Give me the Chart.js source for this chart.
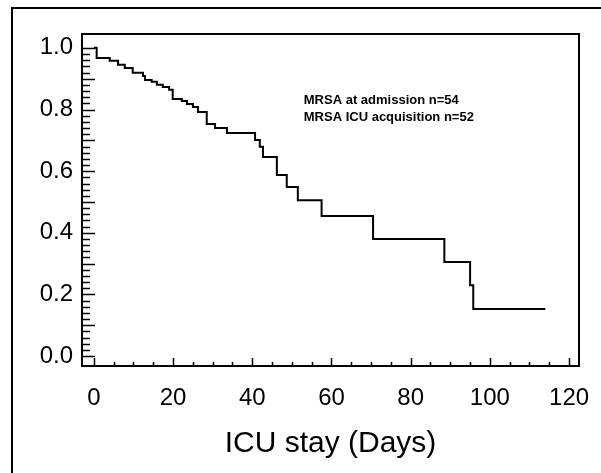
<!DOCTYPE html>
<html>
<head>
<meta charset="utf-8">
<script src="https://cdn.jsdelivr.net/npm/chart.js@4"></script>
<style>
  html, body { margin: 0; padding: 0; background: #fff; }
  #wrap { width: 601px; height: 473px; }
</style>
</head>
<body>
<div id="wrap"><canvas id="kmChart"></canvas></div>
<script>
// Kaplan-Meier style curve
const stayDays = [0, 0.7, 4.0, 6.1, 7.8, 9.8, 12.4, 12.9, 14.6, 15.9, 17.4, 19.0, 19.9, 22.2, 23.5, 25.0, 26.3, 28.5, 30.6, 33.6, 40.7, 41.9, 42.7, 46.2, 48.7, 51.5, 57.5, 70.5, 88.5, 95.0, 95.8, 114];
const survival = [1.0, 0.967, 0.958, 0.945, 0.935, 0.919, 0.909, 0.896, 0.89, 0.88, 0.873, 0.864, 0.834, 0.828, 0.818, 0.808, 0.792, 0.753, 0.74, 0.724, 0.701, 0.679, 0.646, 0.588, 0.549, 0.506, 0.455, 0.38, 0.305, 0.23, 0.153, 0.153];

const xTickValues = [0, 20, 40, 60, 80, 100, 120];
const yTickValues = [0, 0.2, 0.4, 0.6, 0.8, 1.0];
const legendLines = ['MRSA at admission n=54', 'MRSA ICU acquisition n=52'];

const points = stayDays.map((d, i) => ({ x: d, y: survival[i] }));

// frame, axis box, inward ticks and the text block
const decorations = {
    id: 'decorations',
    beforeDraw(chart) {
        const ctx = chart.ctx;
        ctx.save();
        ctx.strokeStyle = '#000';
        ctx.lineWidth = 2;
        ctx.beginPath();
        ctx.moveTo(12, chart.height);
        ctx.lineTo(12, 8);
        ctx.lineTo(chart.width, 8);
        ctx.stroke();
        ctx.restore();
    },
    afterDraw(chart) {
        const ctx = chart.ctx;
        const area = chart.chartArea;
        const xs = chart.scales.x;
        const ys = chart.scales.y;
        ctx.save();
        ctx.strokeStyle = '#000';
        ctx.lineWidth = 2;
        ctx.strokeRect(area.left, area.top, area.right - area.left, area.bottom - area.top);

        ctx.lineWidth = 1.5;
        ctx.beginPath();
        for (let d = 0; d <= 120; d += 5) {
            const px = Math.round(xs.getPixelForValue(d)) + 0.5;
            const len = d % 20 === 0 ? 8 : 4;
            ctx.moveTo(px, area.bottom);
            ctx.lineTo(px, area.bottom - len);
        }
        for (let k = 0; k <= 50; k++) {
            const v = k * 0.02;
            const py = Math.round(ys.getPixelForValue(v)) + 0.5;
            const len = k % 5 === 0 ? 13 : 8;
            ctx.moveTo(area.left, py);
            ctx.lineTo(area.left + len, py);
        }
        ctx.stroke();

        ctx.fillStyle = '#000';
        ctx.font = 'bold 13px "Liberation Sans", Arial, sans-serif';
        ctx.textBaseline = 'middle';
        legendLines.forEach((txt, i) => {
            ctx.fillText(txt, xs.getPixelForValue(53), ys.getPixelForValue(0.83 - i * 0.055));
        });
        ctx.restore();
    }
};

new Chart(document.getElementById('kmChart'), {
    type: 'line',
    data: {
        datasets: [{
            data: points,
            stepped: true,
            borderColor: '#000',
            borderWidth: 2,
            pointRadius: 0,
            fill: false
        }]
    },
    options: {
        responsive: true,
        maintainAspectRatio: false,
        animation: false,
        layout: { padding: { top: 34, right: 22, left: 0, bottom: 0 } },
        plugins: {
            legend: { display: false },
            tooltip: { enabled: false }
        },
        scales: {
            x: {
                type: 'linear',
                min: -3,
                max: 122.5,
                grid: { display: false, drawTicks: false },
                border: { display: false },
                afterBuildTicks: (scale) => { scale.ticks = xTickValues.map(v => ({ value: v })); },
                afterFit: (scale) => {
                    scale.height = 107;
                    scale.paddingLeft = 0;
                    scale.paddingRight = 0;
                },
                ticks: {
                    color: '#000',
                    padding: 18,
                    maxRotation: 0,
                    font: { family: '"Liberation Sans", Arial, sans-serif', size: 24 },
                    callback: (v) => String(v)
                },
                title: {
                    display: true,
                    text: 'ICU stay (Days)',
                    color: '#000',
                    padding: { top: 4, bottom: 11 },
                    font: { family: '"Liberation Sans", Arial, sans-serif', size: 30 }
                }
            },
            y: {
                min: -0.032,
                max: 1.045,
                grid: { display: false, drawTicks: false },
                border: { display: false },
                afterBuildTicks: (scale) => { scale.ticks = yTickValues.map(v => ({ value: v })); },
                afterFit: (scale) => {
                    scale.width = 82;
                    scale.paddingTop = 0;
                    scale.paddingBottom = 0;
                },
                ticks: {
                    color: '#000',
                    padding: 9,
                    font: { family: '"Liberation Sans", Arial, sans-serif', size: 24 },
                    callback: (v) => v.toFixed(1)
                }
            }
        }
    },
    plugins: [decorations]
});
</script>
</body>
</html>
